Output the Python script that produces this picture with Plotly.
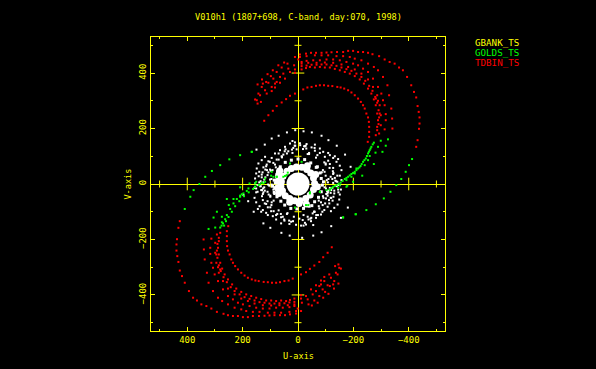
import plotly.graph_objects as go

title_text = "V010h1 (1807+698, C-band, day:070, 1998)"
legend_names = ["GBANK_TS", "GOLDS_TS", "TDBIN_TS"]
tick_major = [400, 200, 0, -200, -400]
cross_major = [-400, -200, 200, 400]
cross_minor = [-500, -300, -100, 100, 300, 500]

red_upper_u = [-427,-432,-437,-439,-439,-436,-432,-427,-419,-409,-394,-379,-365,-349,-331,-313,-293,-269,-253,-235,-217,-199,-181,-163,-141,-121,-103,-85,-65,-47,-29,-7,
 122,107,91,77,59,43,29,11,-19,-34,-49,-65,-79,-94,-109,-124,-142,-154,-167,-181,-193,-205,-217,-227,-235,-241,-247,-253,-256,-257,-257,-257,-252,
 155,149,146,134,143,137,146,130,131,119,113,127,110,107,95,95,83,98,89,77,65,77,65,47,59,53,50,35,29,11,11,14,11,-1,38,71,91,115,83,
 -341,-340,-337,-329,-323,-307,-289,-274,-253,-229,-205,-187,-163,-139,-109,-85,-61,-31,-7,
 -313,-317,-317,-313,-307,-301,-289,-271,-253,-235,-217,-199,-175,-151,-127,-103,-79,-55,-31,-13,
 -13,-37,-67,-97,-127,-157,-181,-205,-229,-253,-271,-286,-295,-299,-299,-293,
 -13,-31,-49,-67,-85,-103,-121,-139,-157,-175,-193,-211,-229,-243,-257,-269,-279,-286,-291,-293,-291,-286,
 -13,-29,-43,-61,-79,-97,-115,-133,-151,-169,-187,-205,-223,-238,-253,-265,-274,-281,-286,-289,-286,-281,-295,-289,-281]
red_upper_v = [134,158,199,218,240,260,281,312,332,356,386,410,420,434,440,449,461,468,473,476,476,480,480,476,476,475,474,473,473,473,470,467,
 228,248,264,281,294,306,318,326,341,348,350,354,356,356,354,353,350,348,344,338,330,320,308,296,284,272,254,240,224,206,188,170,152,
 305,302,290,296,326,320,359,377,350,338,326,362,396,365,350,335,348,389,380,368,365,404,386,380,420,398,438,416,404,413,401,428,458,449,434,428,410,368,362,
 200,236,272,320,356,386,410,422,434,446,452,458,461,461,464,464,464,461,458,
 197,230,252,284,302,326,350,380,404,416,428,434,440,446,449,449,446,446,444,440,
 434,437,437,438,437,431,422,413,398,377,350,320,284,248,212,182,
 425,427,430,430,431,431,428,426,420,414,408,398,386,372,354,336,314,293,266,240,216,194,
 413,418,422,420,422,420,420,415,410,404,398,389,377,362,344,326,305,284,254,230,206,176,254,300,308]
red_lower_u = [427,432,437,439,439,436,432,427,419,409,394,379,365,349,331,313,293,269,253,235,217,199,181,163,141,121,103,85,65,47,29,7,
 -122,-107,-91,-77,-59,-43,-29,-11,19,34,49,65,79,94,109,124,142,154,167,181,193,205,217,227,235,241,247,253,256,257,257,257,252,
 -155,-149,-146,-134,-143,-137,-146,-130,-131,-119,-113,-127,-110,-107,-95,-95,-83,-98,-89,-77,-65,-77,-65,-47,-59,-53,-50,-35,-29,-11,-11,-14,-11,1,-38,-71,-91,-115,-83,
 341,340,337,329,323,307,289,274,253,229,205,187,163,139,109,85,61,31,7,
 313,317,317,313,307,301,289,271,253,235,217,199,175,151,127,103,79,55,31,13,
 13,37,67,97,127,157,181,205,229,253,271,286,295,299,299,293,
 13,31,49,67,85,103,121,139,157,175,193,211,229,243,257,269,279,286,291,293,291,286,
 13,29,43,61,79,97,115,133,151,169,187,205,223,238,253,265,274,281,286,289,286,281,295,289,281]
red_lower_v = [-134,-158,-199,-218,-240,-260,-281,-312,-332,-356,-386,-410,-420,-434,-440,-449,-461,-468,-473,-476,-476,-480,-480,-476,-476,-475,-474,-473,-473,-473,-470,-467,
 -228,-248,-264,-281,-294,-306,-318,-326,-341,-348,-350,-354,-356,-356,-354,-353,-350,-348,-344,-338,-330,-320,-308,-296,-284,-272,-254,-240,-224,-206,-188,-170,-152,
 -305,-302,-290,-296,-326,-320,-359,-377,-350,-338,-326,-362,-396,-365,-350,-335,-348,-389,-380,-368,-365,-404,-386,-380,-420,-398,-438,-416,-404,-413,-401,-428,-458,-449,-434,-428,-410,-368,-362,
 -200,-236,-272,-320,-356,-386,-410,-422,-434,-446,-452,-458,-461,-461,-464,-464,-464,-461,-458,
 -197,-230,-252,-284,-302,-326,-350,-380,-404,-416,-428,-434,-440,-446,-449,-449,-446,-446,-444,-440,
 -434,-437,-437,-438,-437,-431,-422,-413,-398,-377,-350,-320,-284,-248,-212,-182,
 -425,-427,-430,-430,-431,-431,-428,-426,-420,-414,-408,-398,-386,-372,-354,-336,-314,-293,-266,-240,-216,-194,
 -413,-418,-422,-420,-422,-420,-420,-415,-410,-404,-398,-389,-377,-362,-344,-326,-305,-284,-254,-230,-206,-176,-254,-300,-308]

green_u = [-274,-265,-259,-253,-245,-235,-226,-217,-205,-193,-181,-169,-154,-139,-127,-115,
 -270,-262,-256,-249,-240,-230,-222,-211,-199,-187,-175,-161,-147,-133,-121,
 -299,-289,-280,-259,-253,-274,-241,-232,-199,-178,-325,-317,-305,-412,-401,-389,-373,-355,
 29,-13,95,77,53,41,119,137,155,179,197,209,167,-43,-79,-103,-37,11,-151,-175,-193,-211,-205,-163,-208,89,
 167,209,248,281,311,335,356,209,175,151,155,119,125,97,77,47,37,
 155,185,203,221,233,245,257,263,271,281,299,323,305,293,275,250,257,233,409,389,377,275,209,
 162,178,195,212,227,239,251,260,267,276,130,142,
 -163,-209,-247,-281,-310,-334,-43,-79,-115,-145,-175,-29]
green_v = [149,134,122,110,92,80,65,56,44,36,26,18,5,-4,-10,-19,
 143,128,116,101,86,72,60,50,40,31,22,11,1,-7,-15,
 156,134,113,101,86,72,68,30,8,-6,161,138,116,90,68,44,18,-4,
 74,80,44,26,26,32,8,-1,2,-16,-34,-42,116,-34,-28,-22,-76,-85,-4,14,26,56,38,-121,-109,26,
 116,104,89,68,47,26,0,-12,2,8,-10,20,2,30,26,29,41,
 -10,-25,-37,-54,-70,-90,-112,-127,-142,-157,-157,-162,-121,-100,-118,-76,-54,-54,-90,-46,-22,-138,-46,
 -18,-30,-44,-62,-80,-100,-119,-134,-150,-150,5,-4,
 -120,-109,-94,-73,-52,-28,-30,-28,-22,-14,-10,-76]

white_u = [150,120,95,70,40,10,-20,-50,-85,-110,-140,-170,-190,
 -180,-155,-120,-85,-55,-15,30,60,100,125,160,180,197,
 29,11,-7,-31,-61,47,17,-25,-49,-79,65,35,5,-61,-91,-109,83,53,20,-40,-79,-115,-133,
 119,95,59,-97,-127,-145,131,107,77,-109,-139,143,113,89,-115,-151,149,125,101,-127,-157,
 151,131,107,-127,-151,155,131,101,-133,-157,155,125,95,-127,-151,151,122,89,-115,-145,
 -29,-11,7,31,61,-47,-17,25,49,79,-65,-35,-5,61,91,109,-83,-53,-20,40,79,115,133,
 -119,-95,-59,97,127,145,-131,-107,-77,109,139,-143,-113,-89,115,151,-149,-125,-101,127,157,
 -151,-131,-107,127,151,-155,-131,-101,133,157,
 140,112,80,-100,-138,-110,-118,-90,100,125,-140,-105,-75,95,130,70,-35,-65,-95,45,-45,75,120,-25,
 -70,38,15,-38,-88,-120,55,100,135,-55,-20,20,88,-100,-128,-60,-30,10,50,
 83,70,58,-83,-75,-60,-90,92,-92,88,40,-40,
 142,128,115,102,135,118,98,146,126,110,-146,-128,-112,-98,-138,-120,-102,-142,-124,-106,
 -142,-126,-114,-100,-135,-118,-96,-146,-124,-108,146,130,110,96,136,120,100,140,122,106,
 -18,22,48,70,-48,-72,12,-28,58,-58,18,-22,62,-66,-8,32,
 108,-108,96,-96,110,-110,86,-86,104,-104,118,-118]
white_v = [124,142,164,174,186,194,190,186,174,158,138,106,62,
 -85,-122,-152,-174,-186,-194,-186,-176,-158,-142,-100,-62,-40,
 146,150,147,144,142,134,130,136,132,128,122,118,125,120,116,112,110,106,112,108,112,104,100,
 98,94,100,98,94,90,86,82,88,84,80,74,70,76,72,66,56,60,52,58,50,
 38,34,42,36,30,20,24,16,22,14,2,6,-2,4,-4,-16,-12,-20,-14,-20,
 -146,-150,-147,-144,-142,-134,-130,-136,-132,-128,-122,-118,-125,-120,-116,-112,-110,-106,-112,-108,-112,-104,-100,
 -98,-94,-100,-98,-94,-90,-86,-82,-88,-84,-80,-74,-70,-76,-72,-66,-56,-60,-52,-58,-50,
 -38,-34,-42,-36,-30,-20,-24,-16,-22,-14,
 44,50,60,30,10,18,-32,-44,-46,-30,-8,-26,-60,-66,-22,-95,108,95,78,125,-125,-108,-70,-140,
 104,-105,-118,-128,-100,-50,-118,-84,-8,-148,-150,155,-98,70,40,130,128,138,-128,
 70,88,96,-66,-80,-100,50,50,-50,-60,110,112,
 28,42,64,80,10,24,48,-4,-16,-28,-30,-46,-58,-70,-6,-22,-36,8,18,-34,
 30,46,58,74,12,26,44,-4,-14,-30,-28,-44,-62,-76,-8,-24,-42,6,16,-38,
 126,124,118,110,-122,-112,138,138,98,-100,-134,136,-108,-112,140,-132,
 -2,6,18,-12,32,-24,-36,42,-6,14,52,-50]

band_u = [60,54,40,24,6,-14,-32,-46,-56,-60,-56,-44,-28,-8,12,30,46,56,62,72,74,70,-64,-34,-4,30,-70,70,66,-30]
band_v = [8,28,46,56,61,60,52,40,22,2,-20,-40,-52,-60,-60,-52,-42,-24,-8,10,-14,32,34,66,-70,-66,-10,-34,48,-72]
band_edge_u = [82,78,84,74,86,64,46,24,0,-24,-46,-66,-80,-84,-88,-84,-74,-60,-40,-20,4,26,48,62,76,86,-92,-70,-50,92]
band_edge_v = [4,26,-14,44,-30,62,78,86,90,88,76,60,40,20,-4,-28,-48,-64,-80,-88,-90,-88,-76,-62,-46,14,8,62,-78,-8]

core_u = [0]
core_v = [0]

fig = go.Figure()
fig.add_trace(go.Scatter(x=cross_major, y=[0]*len(cross_major), mode="markers",
    marker=dict(symbol="line-ns", size=9, line=dict(color="#ffff00", width=1))))
fig.add_trace(go.Scatter(x=cross_minor, y=[0]*len(cross_minor), mode="markers",
    marker=dict(symbol="line-ns", size=5, line=dict(color="#ffff00", width=1))))
fig.add_trace(go.Scatter(x=[0]*len(cross_major), y=cross_major, mode="markers",
    marker=dict(symbol="line-ew", size=9, line=dict(color="#ffff00", width=1))))
fig.add_trace(go.Scatter(x=[0]*len(cross_minor), y=cross_minor, mode="markers",
    marker=dict(symbol="line-ew", size=5, line=dict(color="#ffff00", width=1))))
dot = dict(symbol="square", size=2, line=dict(width=0))
fig.add_trace(go.Scatter(x=red_upper_u, y=red_upper_v, mode="markers", marker=dict(dot, color="#ff0000")))
fig.add_trace(go.Scatter(x=red_lower_u, y=red_lower_v, mode="markers", marker=dict(dot, color="#ff0000")))
fig.add_trace(go.Scatter(x=white_u, y=white_v, mode="markers", marker=dict(dot, color="#ffffff")))
fig.add_trace(go.Scatter(x=band_edge_u, y=band_edge_v, mode="markers",
    marker=dict(symbol="square", size=3, color="#ffffff", line=dict(width=0))))
fig.add_trace(go.Scatter(x=band_u, y=band_v, mode="markers",
    marker=dict(symbol="circle", size=7, color="#ffffff", line=dict(width=0))))
fig.add_trace(go.Scatter(x=core_u, y=core_v, mode="markers",
    marker=dict(symbol="circle", size=23, color="#ffffff", line=dict(width=0))))
fig.add_trace(go.Scatter(x=green_u, y=green_v, mode="markers", marker=dict(dot, color="#00ff00")))

axis = dict(ticks="inside", ticklen=4, tickcolor="#ffff00", tickwidth=1,
    linecolor="#ffff00", linewidth=1, mirror="ticks", showgrid=False,
    zeroline=True, zerolinecolor="#ffff00", zerolinewidth=1,
    minor=dict(dtick=100, tick0=0, ticks="inside", ticklen=2, tickcolor="#ffff00", tickwidth=1, showgrid=False),
    tickfont=dict(family="DejaVu Sans Mono", size=9, color="#ffff00"),
    tickvals=tick_major, ticktext=[str(t).replace("-", "\u2212") for t in tick_major])
W, H = 596, 369
L, R, T, B = 150.5, 445.5, 37, 331
fig.update_layout(width=W, height=H, autosize=False, showlegend=False,
    paper_bgcolor="#000000", plot_bgcolor="#000000",
    margin=dict(l=L, r=W-R, t=T, b=H-B, pad=0),
    xaxis=dict(axis, range=[531, -531]),
    yaxis=dict(axis, range=[-530, 530], tickangle=-90))

def label(text, px, py, color="#ffff00", angle=0, anchor="center", size=8.6):
    fig.add_annotation(text=text, xref="paper", yref="paper",
        x=(px-L)/(R-L), y=(B-py)/(B-T), xanchor=anchor, yanchor="middle",
        showarrow=False, textangle=angle, borderpad=0,
        font=dict(family="DejaVu Sans Mono", size=size, color=color))

label(title_text, 298, 17)
label("U-axis", 298, 356)
label("V-axis", 127, 184, angle=-90)
label(legend_names[0], 474.5, 42, "#ffff00", anchor="left", size=9.2)
label(legend_names[1], 474.5, 52.5, "#00ff00", anchor="left", size=9.2)
label(legend_names[2], 474.5, 62.5, "#ff0000", anchor="left", size=9.2)

fig.write_html("out.html", config={"displayModeBar": False},
    post_script="document.body.style.margin='0';document.body.style.background='#000';")
